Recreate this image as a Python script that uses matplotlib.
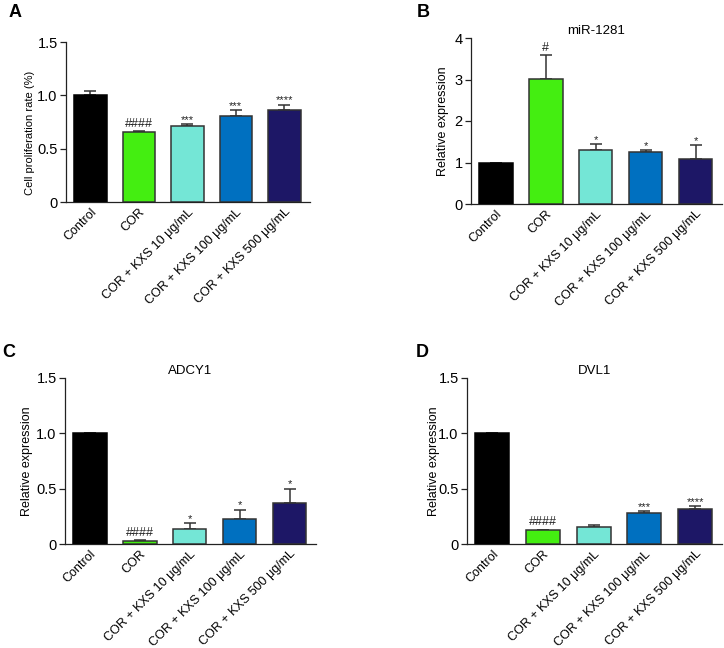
import numpy as np
import matplotlib
matplotlib.use("Agg")
import matplotlib.pyplot as plt
import matplotlib.transforms as mtransforms

plt.rcParams['font.family'] = ['Liberation Sans', 'DejaVu Sans']

groups = ['Control', 'COR', 'COR + KXS 10 μg/mL', 'COR + KXS 100 μg/mL', 'COR + KXS 500 μg/mL']
colors = ['#000000', '#44EE11', '#74E6D6', '#0070C0', '#1D1766']

a_vals = [1.0, 0.66, 0.715, 0.81, 0.86]
a_err = [0.045, 0.004, 0.015, 0.05, 0.05]
a_ann = ['', '####', '***', '***', '****']

b_vals = [1.0, 3.01, 1.31, 1.26, 1.08]
b_err = [0.0, 0.58, 0.13, 0.03, 0.34]
b_ann = ['', '#', '*', '*', '*']

c_vals = [1.0, 0.024, 0.14, 0.225, 0.375]
c_err = [0.0, 0.008, 0.05, 0.085, 0.125]
c_ann = ['', '####', '*', '*', '*']

d_vals = [1.0, 0.124, 0.157, 0.278, 0.32]
d_err = [0.0, 0.006, 0.013, 0.018, 0.02]
d_ann = ['', '####', '', '***', '****']

W, H = 724, 648
fig = plt.figure(figsize=(W / 100, H / 100), dpi=100)


def px_axes(left, right, top, bottom):
    return fig.add_axes([left / W, 1 - bottom / H, (right - left) / W, (bottom - top) / H])


def panel(ax, vals, errs, anns, ylim, yticks, yticklabels, ylabel, title, ylabel_x,
          ylabel_y=0.5, ylabel_size=9):
    x = np.arange(len(groups))
    ax.bar(x, vals, width=0.67, color=colors, edgecolor=['#000000'] + ['#333333'] * 4,
           linewidth=1.1, zorder=3)
    ax.errorbar(x, vals, yerr=[np.zeros(len(errs)), errs], fmt='none', ecolor='#333333',
                elinewidth=1.1, capsize=4.2, capthick=1.1, zorder=2)
    for xi, v, e, t in zip(x, vals, errs, anns):
        if not t:
            continue
        if t.startswith('#'):
            ax.annotate(t, (xi, v + e), xytext=(0, 3), textcoords='offset points',
                        ha='center', va='baseline', fontsize=9, color='#222222')
        else:
            ax.annotate(t, (xi, v + e), xytext=(0, 1), textcoords='offset points',
                        ha='center', va='baseline', fontsize=8, color='#222222')
    ax.set_xlim(-0.5, 4.53)
    ax.set_ylim(*ylim)
    ax.set_yticks(yticks)
    ax.set_yticklabels(yticklabels, fontsize=10.5)
    ax.set_xticks(x)
    ax.set_xticklabels(groups, rotation=45, ha='right', rotation_mode='anchor', fontsize=9)
    offset = mtransforms.ScaledTranslation(0.05, 0.0, fig.dpi_scale_trans)
    for lbl in ax.get_xticklabels():
        lbl.set_transform(lbl.get_transform() + offset)
    ax.tick_params(axis='x', length=0, pad=3)
    ax.tick_params(axis='y', length=4, width=0.9, color='#222222', pad=2)
    for s in ['top', 'right']:
        ax.spines[s].set_visible(False)
    for s in ['left', 'bottom']:
        ax.spines[s].set_linewidth(0.9)
        ax.spines[s].set_color('#222222')
    ax.set_ylabel(ylabel, fontsize=ylabel_size)
    ax.yaxis.set_label_coords(ylabel_x, ylabel_y)
    if title:
        ax.set_title(title, fontsize=9.5, pad=3)


axA = px_axes(66, 310, 42, 202)
panel(axA, a_vals, a_err, a_ann, (0, 1.5), [0, 0.5, 1.0, 1.5], ['0', '0.5', '1.0', '1.5'],
      'Cell proliferation rate (%)', None, -0.127, 0.43, ylabel_size=8)

axB = px_axes(471, 722, 38, 204)
panel(axB, b_vals, b_err, b_ann, (0, 4), [0, 1, 2, 3, 4], ['0', '1', '2', '3', '4'],
      'Relative expression', 'miR-1281', -0.088)

axC = px_axes(65, 316, 378, 544)
panel(axC, c_vals, c_err, c_ann, (0, 1.5), [0, 0.5, 1.0, 1.5], ['0', '0.5', '1.0', '1.5'],
      'Relative expression', 'ADCY1', -0.127)

axD = px_axes(467, 722, 378, 544)
panel(axD, d_vals, d_err, d_ann, (0, 1.5), [0, 0.5, 1.0, 1.5], ['0', '0.5', '1.0', '1.5'],
      'Relative expression', 'DVL1', -0.106)

for lab, xp, yp in [('A', 9, 4), ('B', 417, 4), ('C', 2, 344), ('D', 416, 344)]:
    fig.text(xp / W, 1 - yp / H, lab, fontsize=13, fontweight='bold', va='top', ha='left')

fig.savefig('out.png', dpi=100)
